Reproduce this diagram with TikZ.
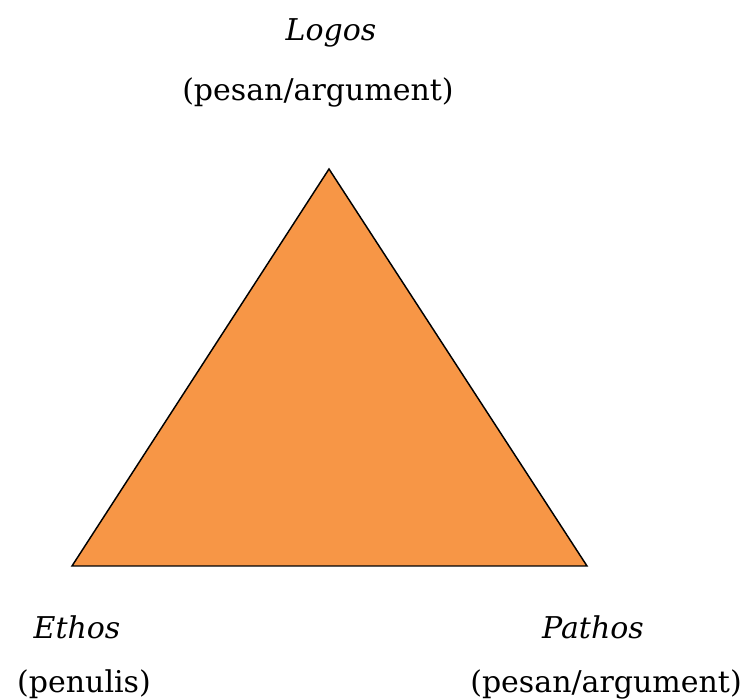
\documentclass[tikz,border=0pt]{standalone}
\usepackage{fontspec}
\setmainfont{DejaVu Serif}
\usetikzlibrary{calc}
\definecolor{myorange}{RGB}{247, 150, 70}

\begin{document}
\begin{tikzpicture}[x=0.75pt,y=0.75pt]

\tikzstyle{label} = [inner sep=0, font=\fontsize{22.5}{27}\selectfont]

\useasboundingbox (0,0) rectangle (747,699);

% triangle corners
\coordinate (top) at (329,530);
\coordinate (left) at (72,133);
\coordinate (right) at (587,133);
\draw[fill=myorange, line width=1.1] (left) -- (top) -- (right) -- cycle;

\node [label] (logos) at (331,666) {\textit{Logos}};
\node [label] (logos-sub) at (318,607) {(pesan/argument)};

\node [label] (ethos) at (77,72) {\textit{Ethos}};
\node [label] (ethos-sub) at (84,15) {(penulis)};

\node [label] (pathos) at (593,72) {\textit{Pathos}};
\node [label, anchor=east] (pathos-sub) at (742,15) {(pesan/argument)};

\end{tikzpicture}
\end{document}
